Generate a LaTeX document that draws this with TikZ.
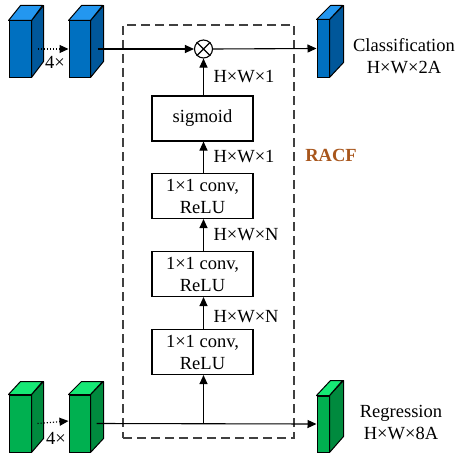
\documentclass[tikz,border=0pt]{standalone}
\usepackage{fontspec}
\setmainfont{Liberation Serif}
\usetikzlibrary{arrows.meta}
\definecolor{bluefront}{HTML}{0070C0}
\definecolor{blueside}{HTML}{00579A}
\definecolor{bluetop}{HTML}{2397F0}
\definecolor{greenfront}{HTML}{00B050}
\definecolor{greenside}{HTML}{008A3E}
\definecolor{greentop}{HTML}{16E875}
\definecolor{racfcol}{HTML}{A8561C}
\definecolor{dashcol}{HTML}{404040}

\begin{document}
\begin{tikzpicture}[x=1pt,y=-1pt,
  font=\fontsize{18.5}{22}\selectfont,
  line width=1.1pt,
  tip/.style={-{Triangle[length=9pt,width=8pt]}},
  opbox/.style={draw, minimum width=101pt, minimum height=45pt, inner sep=0pt, align=center},
  dimlbl/.style={anchor=west, inner sep=0pt},
  face/.style={draw, inner sep=0pt, line width=1pt},
  pics/cuboid/.style n args={5}{code={
    \node[face, fill=#5front, minimum width=#1pt, minimum height=#2pt] (-f) at (0,0) {};
    \draw[line width=1pt, line join=round, fill=#5side] (-f.north east) -- ++(#3,-#4) -- ++(0,#2) -- (-f.south east) -- cycle;
    \draw[line width=1pt, line join=round, fill=#5top] (-f.north west) -- ++(#3,-#4) -- ++(#1,0) -- (-f.north east) -- cycle;
  }},
]
\useasboundingbox (0,0) rectangle (457,452);

% dashed frame of the RACF branch
\node[draw=dashcol, dash pattern=on 9pt off 5pt, line width=1.1pt, minimum width=171pt, minimum height=413pt, inner sep=0pt] (racfbox) at (208.5,231.5) {};
\node[font=\fontsize{18.5}{22}\selectfont\bfseries, text=racfcol] (racf) at (331,155) {RACF};

% feature maps
\pic (cb1) at (20,49) {cuboid={22}{56}{12}{15}{blue}};
\pic (cb2) at (79.5,49) {cuboid={21}{56}{13}{15}{blue}};
\pic (cb3) at (323,48.5) {cuboid={12}{57}{14}{14}{blue}};
\pic (cg1) at (20,423.5) {cuboid={22}{57}{12}{13}{green}};
\pic (cg2) at (79.5,423.5) {cuboid={21}{57}{13}{13}{green}};
\pic (cg3) at (323,424) {cuboid={12}{56}{14}{15}{green}};

% multiplication
\node[draw, circle, minimum size=18pt, inner sep=0pt] (mul) at (203.5,49) {};
\draw (mul.north west) -- (mul.south east) (mul.north east) -- (mul.south west);

% attention branch
\node[opbox] (sig) at (202.5,118.5) {sigmoid};
\node[opbox] (conv1) at (202.5,196) {1×1 conv,\\ReLU};
\node[opbox] (conv2) at (202.5,274) {1×1 conv,\\ReLU};
\node[opbox] (conv3) at (202.5,352) {1×1 conv,\\ReLU};

% connectors
\draw[dotted, tip] ([xshift=6pt]cb1-f.east) -- (cb2-f.west);
\draw[dotted, tip] ([xshift=6pt]cg1-f.east) -- ([yshift=2.5pt]cg2-f.west);
\draw[tip] ([xshift=7pt]cb2-f.east) -- (mul.west);
\draw[tip] (mul.east) -- (cb3-f.west);
\draw[tip] ([xshift=6pt]cg2-f.east) -- (cg3-f.west);
\coordinate (split) at (mul |- cg2-f.east);
\draw[tip] (split) -- (mul |- conv3.south);
\draw[tip] (mul |- conv3.north) -- (mul |- conv2.south);
\draw[tip] (mul |- conv2.north) -- (mul |- conv1.south);
\draw[tip] (mul |- conv1.north) -- (mul |- sig.south);
\draw[tip] (mul |- sig.north) -- (mul.south);

% labels
\node (rep1) at (55,62) {4×};
\node (rep2) at (56,438) {4×};
\node[dimlbl] (d0) at (213,77) {H×W×1};
\node[dimlbl] (d1) at (213,157) {H×W×1};
\node[dimlbl] (d2) at (213,235) {H×W×N};
\node[dimlbl] (d3) at (213,317) {H×W×N};
\node[align=center] (cls) at (404,56) {Classification\\H×W×2A};
\node[align=center] (reg) at (401,422.5) {Regression\\H×W×8A};
\end{tikzpicture}
\end{document}
